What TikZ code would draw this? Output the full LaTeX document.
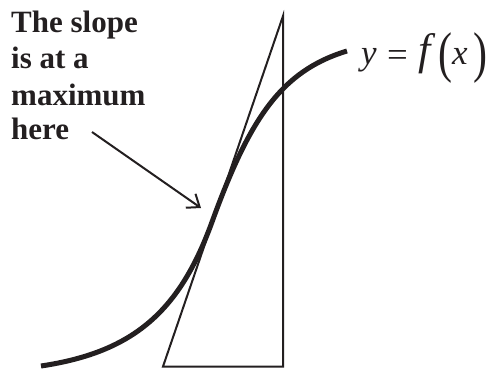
\documentclass[tikz,border=0pt]{standalone}
\usepackage{fontspec}
\setmainfont{Liberation Serif}
\usepackage{graphicx}
\usetikzlibrary{arrows.meta}
\definecolor{ink}{HTML}{231F20}
\newcommand{\bigparen}[1]{\raisebox{-6pt}{\scalebox{0.75}[1]{\fontsize{56}{56}\selectfont #1}}}
\begin{document}
\begin{tikzpicture}[x=1pt,y=-1pt,
  lbl/.style={font=\fontsize{31}{35}\selectfont\bfseries, text=ink, inner sep=0pt, anchor=base west},
  formula/.style={font=\fontsize{35}{40}\selectfont, text=ink, inner sep=0pt, anchor=base west},
  curveline/.style={draw=ink, line width=5pt},
  triline/.style={draw=ink, line width=2pt, line join=miter},
  pointer/.style={draw=ink, line width=2pt, -{Straight Barb[length=11pt,width=17pt]}}]
\useasboundingbox (0,0) rectangle (490,369);
% triangle
\coordinate (A) at (163,366.5);
\coordinate (B) at (283,366.5);
\coordinate (C) at (283,16);
\draw[triline] (A) -- (B) -- (C) -- cycle;
% curve
\coordinate (S) at (41,366);
\coordinate (I) at (212,222);
\coordinate (E) at (347,51);
\draw[curveline] (S) .. controls (135,352) and (180,310) .. (I)
                     .. controls (249.6,118.6) and (281,71) .. (E);
% label
\node[lbl] (t1) at (11,33) {The slope};
\node[lbl] (t2) at (11,69) {is at a};
\node[lbl] (t3) at (11,105) {maximum};
\node[lbl] (t4) at (11,139) {here};
% arrow
\coordinate (P0) at (92,132);
\coordinate (P1) at (201,208);
\draw[pointer] (P0) -- (P1);
% formula
\node[formula] (fx) at (361,65) {\makebox[26pt][l]{\itshape y}\makebox[29pt][l]{\raisebox{-1.5pt}{\scalebox{1.05}[1]{=}}}\makebox[22pt][l]{\fontsize{44}{44}\selectfont\itshape\hspace{2pt}f}\bigparen{(}\makebox[21pt][l]{\itshape x}\bigparen{)}};
\end{tikzpicture}
\end{document}
